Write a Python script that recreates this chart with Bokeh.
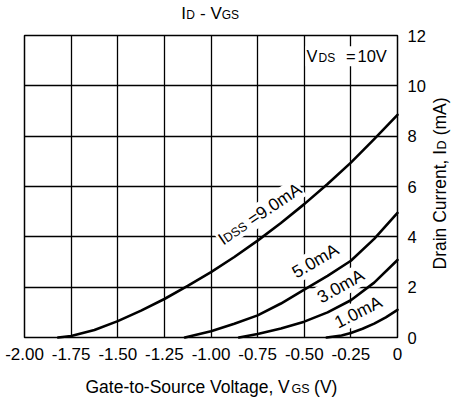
from math import radians, cos, sin, pi
from bokeh.plotting import figure
from bokeh.models import Range1d, FixedTicker, Label
from bokeh.embed import file_html
from bokeh.resources import INLINE

FONT = "Liberation Sans"
NBSP = "\u00a0"

# ---- data ----
title_parts = [("I", "big"), ("D", "small"), (" - V", "big"), ("GS", "small")]
x_label_parts = [("Gate-to-Source Voltage, V", "big"), ("GS", "small"), (" (V)", "big")]
y_label_parts = [("Drain Current, I", "big"), ("D", "small"), (" (mA)", "big")]

x_ticks = [-2.0, -1.75, -1.5, -1.25, -1.0, -0.75, -0.5, -0.25, 0.0]
x_tick_labels = ["-2.00", "-1.75", "-1.50", "-1.25", "-1.00", "-0.75", "-0.50", "-0.25", "0"]
y_ticks = [0, 2, 4, 6, 8, 10, 12]
y_tick_labels = ["0", "2", "4", "6", "8", "10", "12"]

vgs_9 = [-1.82, -1.75, -1.625, -1.5, -1.375, -1.25, -1.125, -1.0, -0.875, -0.75, -0.625, -0.5, -0.375, -0.25, -0.125, 0.0]
id_9 = [0.0, 0.06, 0.3, 0.65, 1.07, 1.53, 2.05, 2.6, 3.2, 3.85, 4.55, 5.3, 6.1, 6.95, 7.88, 8.85]

vgs_5 = [-1.14, -1.0, -0.875, -0.75, -0.625, -0.5, -0.375, -0.25, -0.125, 0.0]
id_5 = [0.0, 0.25, 0.55, 0.88, 1.35, 1.9, 2.45, 3.05, 3.92, 4.95]

vgs_3 = [-0.85, -0.75, -0.625, -0.5, -0.375, -0.25, -0.125, 0.0]
id_3 = [0.0, 0.14, 0.36, 0.63, 1.0, 1.48, 2.18, 3.08]

vgs_1 = [-0.38, -0.3, -0.25, -0.1875, -0.125, -0.0625, 0.0]
id_1 = [0.0, 0.08, 0.18, 0.35, 0.55, 0.8, 1.1]

curves = [(vgs_9, id_9), (vgs_5, id_5), (vgs_3, id_3), (vgs_1, id_1)]

# ---- figure ----
p = figure(width=453, height=403, x_range=Range1d(-2, 0), y_range=Range1d(0, 12),
           y_axis_location="right", output_backend="svg", toolbar_location=None,
           title=None,
           min_border_left=24, min_border_right=56, min_border_top=35, min_border_bottom=66)
p.background_fill_color = "white"
p.border_fill_color = "white"
p.outline_line_color = "black"
p.outline_line_width = 1.5

for ax, ticks, labs in ((p.xaxis[0], x_ticks, x_tick_labels), (p.yaxis[0], y_ticks, y_tick_labels)):
    ax.ticker = FixedTicker(ticks=ticks)
    ax.major_label_overrides = {t: l for t, l in zip(ticks, labs)}
    ax.axis_line_color = None
    ax.major_tick_line_color = None
    ax.minor_tick_line_color = None
    ax.major_tick_out = 0
    ax.major_tick_in = 0
    ax.major_label_text_font = FONT
    ax.major_label_text_color = "black"
p.xaxis.major_label_text_font_size = "17px"
p.yaxis.major_label_text_font_size = "16.5px"
p.xaxis.major_label_standoff = 10
p.yaxis.major_label_standoff = 10

p.xgrid.ticker = FixedTicker(ticks=x_ticks)
p.ygrid.ticker = FixedTicker(ticks=y_ticks)
for g in (p.xgrid, p.ygrid):
    g.grid_line_color = "black"
    g.grid_line_width = 1.3
    g.grid_line_alpha = 1.0

for xs, ys in curves:
    r = p.line(xs, ys, line_color="black", line_width=2.6, line_join="round", line_cap="round")
    r.level = "overlay"

# ---- text helpers ----
W = {' ': 278, NBSP: 278, '(': 333, ')': 333, ',': 278, '-': 333, '.': 278, '=': 584,
     'A': 667, 'C': 722, 'D': 722, 'G': 778, 'I': 278, 'S': 667, 'V': 667,
     'a': 556, 'c': 500, 'e': 556, 'g': 556, 'i': 222, 'l': 222, 'm': 833,
     'n': 556, 'o': 556, 'r': 333, 't': 278, 'u': 556}


def tw(s, size):
    return sum(W.get(c, 556) for c in s) / 1000.0 * size


def dx(px):
    return -2 + (px - 24) / 373.0 * 2


def dy(py):
    return (337 - py) / 302.0 * 12


def put(px, py, text, size, angle=0.0, bg=False, place=None):
    # shift against the observed baseline offset, along the text's "up" direction
    k = 0.32 * size
    px -= k * sin(angle)
    py -= k * cos(angle)
    kw = {}
    if bg:
        kw = dict(background_fill_color="white", padding=1)
    lab = Label(x=dx(px), y=dy(py), text=text, angle=angle,
                text_font=FONT, text_font_size=f"{size}px", text_color="black",
                text_baseline="alphabetic", text_align="left", **kw)
    if place:
        p.add_layout(lab, place)
    else:
        p.add_layout(lab)


def run(start, angle_deg, parts, sizes, bg=False):
    # several labels along one baseline (used inside the plot area)
    a = radians(angle_deg)
    sx, sy = start
    for text, kind in parts:
        size = sizes[kind]
        lead = len(text) - len(text.lstrip(' '))
        adv = tw(' ' * lead, size)
        sx += adv * cos(a)
        sy -= adv * sin(a)
        body = text.strip(' ')
        put(sx, sy, body, size, a, bg)
        w = tw(body, size) + tw(' ' * (len(text) - lead - len(body)), size)
        sx += w * cos(a)
        sy -= w * sin(a)


def composite(start, angle_deg, parts, big, small, place_big, place_small):
    # one label for the large text (gaps kept with no-break spaces) and one for the small capitals
    a = radians(angle_deg)
    nb = tw(NBSP, big)
    nbs = tw(NBSP, small)
    big_str = ""
    pos = 0.0
    segs = []
    for text, kind in parts:
        if kind == "big":
            big_str += text
            pos += tw(text, big)
        else:
            n = max(1, round(tw(text, small) / nb))
            segs.append((pos + (n * nb - tw(text, small)) / 2.0, text))
            big_str += NBSP * n
            pos += n * nb
    sx, sy = start
    put(sx, sy, big_str.rstrip(NBSP), big, a, place=place_big)
    off0, s = segs[0]
    cur = off0 + tw(s, small)
    for off, t in segs[1:]:
        n = max(1, round((off - cur) / nbs))
        s += NBSP * n + t
        cur += n * nbs + tw(t, small)
    # the small capitals sit on the same baseline; compensate for their smaller offset
    k = 0.32 * (big - small)
    put(sx + off0 * cos(a) - k * sin(a), sy - off0 * sin(a) - k * cos(a) + 0, s, small, a, place=place_small) if False else \
        put(sx + off0 * cos(a), sy - off0 * sin(a), s, small, a, place=place_small)


# title and axis titles (outside the plot area, so they live in side panels)
composite((180.7, 18.5), 0, title_parts, 17, 12, "above", "above")
composite((85, 392.5), 0, x_label_parts, 17.5, 12.5, "below", "below")
composite((445.5, 269), 90, y_label_parts, 17.5, 12.5, "right", "left")

LAB = {"big": 17.5, "small": 12.5}

# VDS =10V
put(305, 61, "V", 16.5, bg=True)
put(317, 61, "DS", 12, bg=True)
put(344.5, 61, "=", 16.5, bg=True)
put(356, 61, "10V", 16.5, bg=True)

# curve labels
run((221.7, 245.5), 34, [("I", "big"), ("DSS", "small"), (" =9.0mA", "big")], LAB, bg=True)
run((295, 278.3), 30.5, [("5.0mA", "big")], LAB, bg=True)
run((320, 303.3), 29.5, [("3.0mA", "big")], LAB, bg=True)
run((336.7, 328.3), 26.5, [("1.0mA", "big")], LAB, bg=True)

open("out.html", "w").write(file_html(p, INLINE))
